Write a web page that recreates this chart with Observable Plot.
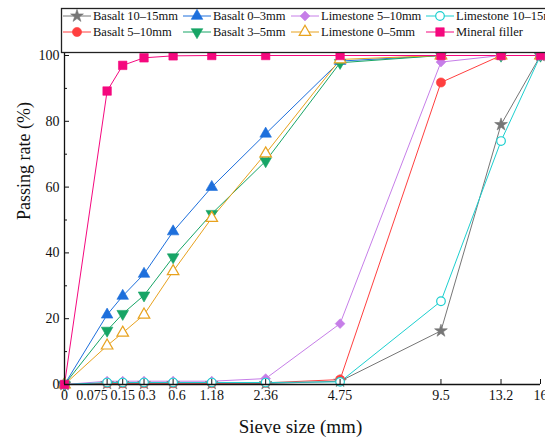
<!DOCTYPE html>
<html>
<head>
<meta charset="utf-8">
<script src="https://cdn.jsdelivr.net/npm/d3@7"></script>
<script src="https://cdn.jsdelivr.net/npm/@observablehq/plot@0.6"></script>
<style>
  html, body { margin: 0; padding: 0; background: #fff; }
  #wrap { position: relative; width: 545px; height: 446px; overflow: hidden; }
  #legend { position: absolute; left: 0; top: 0; }
</style>
</head>
<body>
<div id="wrap"></div>
<script>
const sieves = [0, 0.075, 0.15, 0.3, 0.6, 1.18, 2.36, 4.75, 9.5, 13.2, 16];
const sieveLabels = ["0", "0.075", "0.15", "0.3", "0.6", "1.18", "2.36", "4.75", "9.5", "13.2", "16"];
const seriesNames = ["Basalt 10–15mm", "Basalt 5–10mm", "Basalt 0–3mm", "Basalt 3–5mm",
  "Limestone 5–10mm", "Limestone 0–5mm", "Limestone 10–15mm", "Mineral filler"];
const basalt10_15 = [0, 0.3, 0.3, 0.3, 0.3, 0.3, 0.3, 1.0, 16.3, 79.0, 100];
const basalt5_10 = [0, 0.4, 0.4, 0.4, 0.4, 0.4, 0.5, 1.5, 91.8, 100, 100];
const basalt0_3 = [0, 21.2, 26.9, 33.6, 46.5, 60.0, 76.2, 98.3, 100, 100, 100];
const basalt3_5 = [0, 16.4, 21.5, 27.1, 38.7, 51.9, 67.9, 97.8, 100, 100, 100];
const limestone5_10 = [0, 1.0, 1.0, 1.0, 1.0, 1.0, 1.8, 18.5, 98.0, 100, 100];
const limestone0_5 = [0, 11.8, 15.7, 21.2, 34.4, 50.6, 70.2, 98.8, 100, 100, 100];
const limestone10_15 = [0, 0.6, 0.6, 0.6, 0.6, 0.6, 0.6, 0.8, 25.3, 74.0, 100];
const mineralFiller = [0, 89.2, 97.0, 99.3, 99.9, 100, 100, 100, 100, 100, 100];
const yTicks = [0, 20, 40, 60, 80, 100];
const yMinorTicks = [10, 30, 50, 70, 90];

// layout: horizontal nudges of the x tick labels (pixels), as in the original figure
const labelNudge = [0, -15, 0, 3, 4, 0, 0, 0, 0, 0, 0];

const seriesValues = [basalt10_15, basalt5_10, basalt0_3, basalt3_5, limestone5_10, limestone0_5, limestone10_15, mineralFiller];
const styles = [
  {color: "#767676", symbol: "star", r: 4.0, open: false, rotate: 0},
  {color: "#ff3f3f", symbol: "circle", r: 4.6, open: false, rotate: 0},
  {color: "#1d6fdc", symbol: "triangle", r: 4.3, open: false, rotate: 0},
  {color: "#17a566", symbol: "triangle", r: 4.3, open: false, rotate: 180},
  {color: "#c67ee8", symbol: "diamond2", r: 4.4, open: false, rotate: 0},
  {color: "#e8a21e", symbol: "triangle", r: 4.3, open: true, rotate: 0},
  {color: "#1ccfcf", symbol: "circle", r: 4.3, open: true, rotate: 0},
  {color: "#f5087e", symbol: "square", r: 4.8, open: false, rotate: 0}
];

const data = seriesNames.map((name, i) => sieves.map((s, j) => ({series: name, x: s, y: seriesValues[i][j]})));

const FONT = "'Liberation Serif', 'Times New Roman', serif";

const marks = [];
data.forEach((rows, i) => {
  const st = styles[i];
  marks.push(Plot.line(rows, {x: "x", y: "y", stroke: st.color, strokeWidth: 1}));
});
data.forEach((rows, i) => {
  const st = styles[i];
  marks.push(Plot.dot(rows, {x: "x", y: "y", symbol: () => st.symbol, r: st.r, rotate: st.rotate,
    fill: st.open ? "white" : st.color, stroke: st.color, strokeWidth: st.open ? 1.2 : 0.6}));
});

const tickLabelMarks = sieves.map((s, i) =>
  Plot.text([s], {x: d => d, frameAnchor: "bottom", dy: 15, dx: labelNudge[i],
    text: () => sieveLabels[i], fontSize: 14, fill: "#111"}));

const plot = Plot.plot({
  width: 545,
  height: 446,
  marginLeft: 64,
  marginRight: 5,
  marginTop: 55,
  marginBottom: 62,
  style: {fontFamily: FONT, fontSize: "14px", color: "#111", background: "white"},
  x: {type: "pow", exponent: 0.45, domain: [0, 16]},
  y: {domain: [0, 100]},
  symbol: {type: "identity"},
  marks: [
    ...marks,
    Plot.ruleY([0], {stroke: "#111", strokeWidth: 1.3}),
    Plot.ruleX([0], {stroke: "#111", strokeWidth: 1.3, y1: 0, y2: 101}),
    Plot.axisX({ticks: sieves, tickSize: -5, text: null, label: null, stroke: "#111"}),
    ...tickLabelMarks,
    Plot.axisY({ticks: yTicks, tickSize: -5, text: null, label: null, stroke: "#111"}),
    Plot.axisY({ticks: yMinorTicks, tickSize: -3, text: null, label: null, stroke: "#111"}),
    Plot.axisY({ticks: yTicks, tickSize: 0, tickPadding: 5, label: null, fontSize: 14}),
    Plot.text(["Sieve size (mm)"], {frameAnchor: "bottom", dy: 48, dx: -2, fontSize: 19, fill: "#111"}),
    Plot.text(["Passing rate (%)"], {frameAnchor: "left", dx: -40, rotate: -90, fontSize: 18, fill: "#111"})
  ]
});

const wrap = document.getElementById("wrap");
wrap.appendChild(plot);

// Legend overlay
const leg = d3.select(wrap).append("svg").attr("id", "legend").attr("width", 545).attr("height", 56);
leg.append("rect").attr("x", 61.5).attr("y", 8.5).attr("width", 600).attr("height", 44)
  .attr("fill", "white").attr("stroke", "#222").attr("stroke-width", 1.3);
const colX = [63, 183, 291, 426];
const rowY = [16, 32];
const symMap = {star: d3.symbolStar, circle: d3.symbolCircle, triangle: d3.symbolTriangle, diamond2: d3.symbolDiamond2, square: d3.symbolSquare};
seriesNames.forEach((name, i) => {
  const col = Math.floor(i / 2), row = i % 2;
  const st = styles[i];
  const x0 = colX[col], y = rowY[row];
  const g = leg.append("g");
  g.append("line").attr("x1", x0).attr("x2", x0 + 28).attr("y1", y).attr("y2", y)
    .attr("stroke", st.color).attr("stroke-width", 1);
  g.append("path").attr("d", d3.symbol(symMap[st.symbol], Math.PI * st.r * st.r)())
    .attr("transform", `translate(${x0 + 14},${y}) rotate(${st.rotate})`)
    .attr("fill", st.open ? "white" : st.color).attr("stroke", st.color).attr("stroke-width", st.open ? 1.2 : 0.6);
  g.append("text").attr("x", x0 + 30).attr("y", y).attr("dy", "0.35em")
    .attr("font-family", FONT).attr("font-size", 12.5)
    .attr("fill", "#111").text(name);
});
</script>
</body>
</html>
